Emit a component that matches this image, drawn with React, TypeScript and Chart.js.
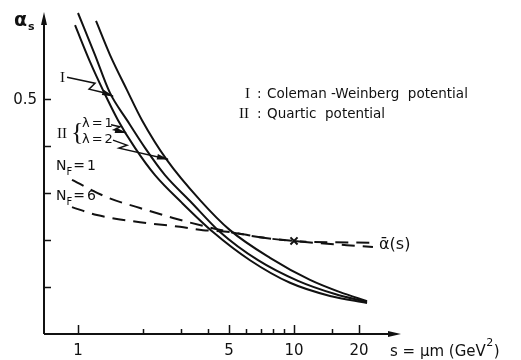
import React, { useEffect, useRef } from "react";
import { Chart, registerables } from "chart.js";

Chart.register(...registerables);

// ---- axis / tick data ----
const xMin = 0.696;
const xMax = 30.95;
const yMin = 0;
const yMax = 0.683;
const xMajorTicks = [1, 5, 10, 20];
const xMinorTicks = [2, 3, 4, 6, 7, 8, 9, 15];
const yTicks = [0.1, 0.2, 0.3, 0.4, 0.5];
const yLabeledTicks = [0.5];

// ---- series ----
// II, lambda = 1 (lowest solid curve)
const sLambda1 = [0.969, 1.137, 1.305, 1.532, 1.836, 2.273, 3.03, 4.217, 6.256, 9.583, 14.68, 21.78];
const alphaLambda1 = [0.657, 0.579, 0.519, 0.455, 0.396, 0.338, 0.279, 0.217, 0.157, 0.109, 0.081, 0.066];
// I, Coleman-Weinberg (middle solid curve)
const sColemanWeinberg = [1.0, 1.198, 1.406, 1.686, 2.043, 2.528, 3.3, 4.544, 6.813, 10.43, 15.48, 21.78];
const alphaColemanWeinberg = [0.683, 0.594, 0.513, 0.455, 0.396, 0.338, 0.283, 0.217, 0.157, 0.113, 0.085, 0.068];
// II, lambda = 2 (upper solid curve)
const sLambda2 = [1.212, 1.406, 1.686, 1.978, 2.583, 3.672, 5.054, 7.743, 11.86, 16.33, 21.78];
const alphaLambda2 = [0.666, 0.594, 0.519, 0.455, 0.37, 0.285, 0.221, 0.162, 0.115, 0.089, 0.07];
// N_F = 1 (dashed)
const sNf1 = [0.938, 1.362, 1.936, 2.754, 3.79, 5.054, 6.96, 9.89, 23.2];
const alphaNf1 = [0.328, 0.291, 0.268, 0.247, 0.23, 0.217, 0.206, 0.198, 0.194];
// N_F = 6 (dashed)
const sNf6 = [0.938, 1.224, 1.936, 2.966, 3.79, 5.054, 6.96, 9.89, 23.2];
const alphaNf6 = [0.27, 0.253, 0.238, 0.228, 0.221, 0.217, 0.206, 0.198, 0.185];
// cross marker on alpha-bar(s)
const markerS = [10];
const markerAlpha = [0.198];

// arrow tips (data coords) for the annotation arrows
const tipI = { s: 1.453, a: 0.506 };
const tipL1 = { s: 1.668, a: 0.428 };
const tipL2 = { s: 2.61, a: 0.372 };

const zip = (xs: number[], ys: number[]) => xs.map((v, i) => ({ x: v, y: ys[i] }));

const INK = "#111";
const SANS = '"DejaVu Sans", sans-serif';
const SERIF = '"Liberation Serif", serif';

const drawPlugin = {
  id: "paperAxes",
  afterDraw(chart: any) {
    const { ctx, chartArea, scales } = chart;
    const xs = scales.x;
    const ys = scales.y;
    const px = (v: number) => xs.getPixelForValue(v);
    const py = (v: number) => ys.getPixelForValue(v);
    const left = chartArea.left;
    const bottom = chartArea.bottom;
    const top = chartArea.top;
    const right = chartArea.right;

    ctx.save();
    ctx.strokeStyle = INK;
    ctx.fillStyle = INK;
    ctx.lineWidth = 2;
    ctx.lineCap = "butt";

    // axes
    ctx.beginPath();
    ctx.moveTo(left, bottom);
    ctx.lineTo(left, top + 6);
    ctx.moveTo(left, bottom);
    ctx.lineTo(right - 6, bottom);
    ctx.stroke();
    // arrowheads
    ctx.beginPath();
    ctx.moveTo(left, top - 1);
    ctx.lineTo(left - 3, top + 12);
    ctx.lineTo(left + 3, top + 12);
    ctx.closePath();
    ctx.fill();
    ctx.beginPath();
    ctx.moveTo(right + 1, bottom);
    ctx.lineTo(right - 12, bottom - 3);
    ctx.lineTo(right - 12, bottom + 3);
    ctx.closePath();
    ctx.fill();

    // x ticks (inward)
    ctx.lineWidth = 1.5;
    ctx.beginPath();
    xMajorTicks.forEach((v) => {
      const x = Math.round(px(v)) + 0.5;
      ctx.moveTo(x, bottom);
      ctx.lineTo(x, bottom - 9);
    });
    xMinorTicks.forEach((v) => {
      const x = Math.round(px(v)) + 0.5;
      ctx.moveTo(x, bottom);
      ctx.lineTo(x, bottom - 5);
    });
    // y ticks
    yTicks.forEach((v) => {
      const y = Math.round(py(v)) + 0.5;
      ctx.moveTo(left, y);
      ctx.lineTo(left + 7, y);
    });
    ctx.stroke();

    // tick labels
    ctx.textBaseline = "middle";
    ctx.textAlign = "center";
    ctx.font = `15px ${SANS}`;
    xMajorTicks.forEach((v) => {
      ctx.fillText(String(v), px(v), bottom + 17);
    });
    ctx.textAlign = "right";
    yLabeledTicks.forEach((v) => {
      ctx.fillText(String(v), left - 7, py(v) + 1);
    });

    // y axis title alpha_s
    ctx.textAlign = "left";
    ctx.font = `bold 19px ${SANS}`;
    ctx.fillText("α", 14, 21);
    ctx.font = `bold 11px ${SANS}`;
    ctx.fillText("s", 28, 27);

    // x axis title s = μm (GeV²)
    ctx.font = `15px ${SANS}`;
    let cx = 390;
    const xl1 = "s = μm (GeV";
    ctx.fillText(xl1, cx, 352);
    cx += ctx.measureText(xl1).width;
    ctx.font = `11px ${SANS}`;
    ctx.fillText("2", cx + 0.5, 343);
    cx += ctx.measureText("2").width + 1;
    ctx.font = `15px ${SANS}`;
    ctx.fillText(")", cx, 352);

    // legend text
    ctx.font = `15px ${SERIF}`;
    ctx.fillText("I", 245, 94);
    ctx.fillText("II", 239, 114);
    ctx.font = `13.5px ${SANS}`;
    ctx.fillText(":", 257, 94);
    ctx.fillText(":", 257, 114);
    ctx.fillText("Coleman -Weinberg  potential", 267, 94);
    ctx.fillText("Quartic  potential", 267, 114);

    // alpha-bar(s)
    ctx.font = `16px ${SANS}`;
    ctx.fillText("ᾱ(s)", 379, 245);

    // N_F labels
    const nf = (val: string, x: number, y: number) => {
      ctx.font = `14px ${SANS}`;
      ctx.fillText("N", x, y);
      let w = ctx.measureText("N").width;
      ctx.font = `10px ${SANS}`;
      ctx.fillText("F", x + w, y + 6);
      w += ctx.measureText("F").width + 1;
      ctx.font = `14px ${SANS}`;
      ctx.fillText("=", x + w, y);
      w += ctx.measureText("=").width + 2;
      ctx.fillText(val, x + w, y);
    };
    nf("1", 56, 166);
    nf("6", 56, 196);

    // II { λ = 1 / λ = 2
    ctx.font = `15px ${SERIF}`;
    ctx.fillText("II", 57, 134);
    ctx.font = `26px ${SERIF}`;
    ctx.fillText("{", 71, 133);
    const lam = (val: string, x: number, y: number) => {
      ctx.font = `13px ${SANS}`;
      ctx.fillText("λ", x, y);
      let w = ctx.measureText("λ").width + 2;
      ctx.fillText("=", x + w, y);
      w += ctx.measureText("=").width + 2;
      ctx.fillText(val, x + w, y);
    };
    lam("1", 82, 124);
    lam("2", 82, 140);
    ctx.font = `15px ${SERIF}`;
    ctx.fillText("I", 60, 78);

    // annotation arrows (zig-zag leaders)
    const arrow = (tip: { s: number; a: number }, offs: number[][]) => {
      const tx = px(tip.s);
      const ty = py(tip.a);
      const pts = offs.map((o) => [tx + o[0], ty + o[1]]);
      pts.push([tx, ty]);
      ctx.lineWidth = 1.5;
      ctx.beginPath();
      ctx.moveTo(pts[0][0], pts[0][1]);
      for (let i = 1; i < pts.length; i++) ctx.lineTo(pts[i][0], pts[i][1]);
      ctx.stroke();
      const [ax, ay] = pts[pts.length - 2];
      const ang = Math.atan2(ty - ay, tx - ax);
      const L = 11;
      const W = 2.8;
      ctx.beginPath();
      ctx.moveTo(tx + Math.cos(ang) * 1, ty + Math.sin(ang) * 1);
      ctx.lineTo(tx - Math.cos(ang) * L - Math.sin(ang) * W, ty - Math.sin(ang) * L + Math.cos(ang) * W);
      ctx.lineTo(tx - Math.cos(ang) * L + Math.sin(ang) * W, ty - Math.sin(ang) * L - Math.cos(ang) * W);
      ctx.closePath();
      ctx.fill();
    };
    arrow(tipI, [[-46, -19], [-18, -13], [-24, -7], [-11, -4]]);
    arrow(tipL1, [[-15, -8], [-6, -6], [-12, -3]]);
    arrow(tipL2, [[-55, -19], [-41, -14], [-49, -11]]);

    ctx.restore();
  },
};

export default function App() {
  const ref = useRef<HTMLCanvasElement | null>(null);
  useEffect(() => {
    if (!ref.current) return;
    const solid = (s: number[], a: number[]) => ({
      data: zip(s, a),
      borderColor: INK,
      borderWidth: 2,
      pointRadius: 0,
      fill: false,
      cubicInterpolationMode: "monotone" as const,
      clip: false as any,
    });
    const dashed = (s: number[], a: number[]) => ({
      ...solid(s, a),
      borderDash: [13, 8],
    });
    const chart = new Chart(ref.current, {
      type: "line",
      data: {
        datasets: [
          solid(sLambda1, alphaLambda1),
          solid(sColemanWeinberg, alphaColemanWeinberg),
          solid(sLambda2, alphaLambda2),
          dashed(sNf1, alphaNf1),
          dashed(sNf6, alphaNf6),
          {
            data: zip(markerS, markerAlpha),
            showLine: false,
            pointStyle: "crossRot",
            pointRadius: 5,
            pointBorderWidth: 2,
            borderColor: INK,
            clip: false as any,
          } as any,
        ],
      },
      options: {
        animation: false,
        responsive: false,
        devicePixelRatio: 1,
        layout: { padding: { left: 44, right: 121, top: 13, bottom: 26 } },
        plugins: { legend: { display: false }, tooltip: { enabled: false } },
        scales: {
          x: { type: "logarithmic", min: xMin, max: xMax, display: false },
          y: { type: "linear", min: yMin, max: yMax, display: false },
        },
      },
      plugins: [drawPlugin],
    });
    return () => chart.destroy();
  }, []);
  return (
    <div style={{ position: "absolute", left: 0, top: 0, width: 521, height: 360, background: "#fff" }}>
      <canvas ref={ref} width={521} height={360} />
    </div>
  );
}
